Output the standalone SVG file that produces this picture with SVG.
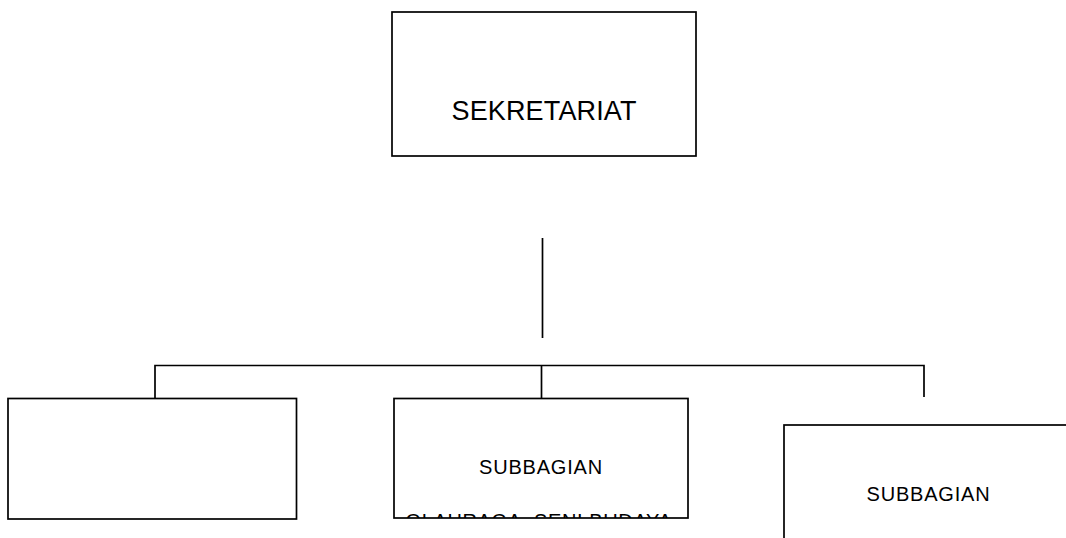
<svg xmlns="http://www.w3.org/2000/svg" width="1066" height="538" viewBox="0 0 1066 538">
<style>
.box{fill:#fff;stroke:#000;stroke-width:1.7}
.ln{fill:none;stroke:#000;stroke-width:1.7}
.t{font-family:"Liberation Sans",Arial,sans-serif;fill:#000;text-anchor:middle}
.big{font-size:27px}
.sm{font-size:20px;letter-spacing:0.8px}
</style>
<defs>
<clipPath id="clipMid"><rect x="394" y="398" width="294" height="120"/></clipPath>
</defs>
<rect width="1066" height="538" fill="#fff"/>
<g id="connectors">
<line class="ln" x1="542.5" y1="238" x2="542.5" y2="338"/>
<polyline class="ln" points="155,398 155,365.5 924,365.5 924,397"/>
<line class="ln" x1="541.5" y1="365.5" x2="541.5" y2="398"/>
</g>
<g id="sekretariat">
<rect class="box" x="392" y="12" width="304" height="144"/>
<text class="t big" x="544" y="120" textLength="185" lengthAdjust="spacing">SEKRETARIAT</text>
</g>
<g id="box-left">
<rect class="box" x="8" y="398.5" width="288.5" height="120.5"/>
</g>
<g id="subbagian-mid">
<rect class="box" x="394" y="398.5" width="294" height="119.5"/>
<g clip-path="url(#clipMid)">
<text class="t sm" x="541" y="474">SUBBAGIAN</text>
<text class="t sm" x="539" y="528" textLength="267" lengthAdjust="spacing">OLAHRAGA, SENI BUDAYA</text>
</g>
</g>
<g id="subbagian-right">
<rect class="box" x="784" y="425" width="290" height="130"/>
<text class="t sm" x="928.5" y="500.5">SUBBAGIAN</text>
</g>
</svg>
